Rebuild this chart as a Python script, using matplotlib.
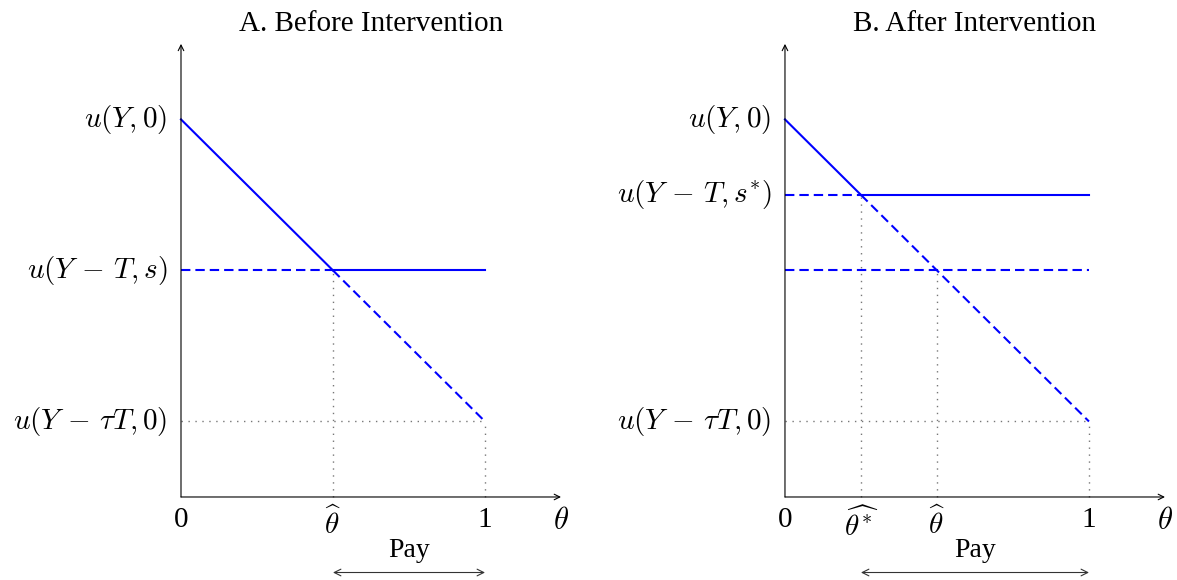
import matplotlib
matplotlib.use("Agg")
import matplotlib.pyplot as plt

plt.rcParams['font.family'] = ['Liberation Serif', 'DejaVu Serif']
plt.rcParams['mathtext.fontset'] = 'cm'

# levels of utility (vertical) and thresholds (horizontal)
u_top = 3.75        # u(Y,0)
u_s = 2.25          # u(Y-T,s)
u_s_star = 3.0      # u(Y-T,s*)
u_tau = 0.75        # u(Y-tau T,0)
theta_hat = 0.5
theta_hat_star = 0.25
x_end = 1.25
y_end = 4.5

titles = ["A. Before Intervention", "B. After Intervention"]
ylabels_a = [r"$u(Y,0)$", r"$u(Y\,-\,T,s)$", r"$u(Y\,-\,\tau T,0)$"]
ylabels_b = [r"$u(Y,0)$", r"$u(Y\,-\,T,s^{*})$", r"$u(Y\,-\,\tau T,0)$"]

blue = "#0000ff"
dots = (0, (1, 4))
dash = (0, (4.5, 2.4))
grey = "#777777"

fig = plt.figure(figsize=(11.77, 5.8), dpi=100)
axA = fig.add_axes([0.12795, 0.1084, 0.3616, 0.8333])
axB = fig.add_axes([0.6411, 0.1084, 0.3616, 0.8333])


def base(ax, title, ylabs, ylevels, xticks, xlabs, pay_from):
    ax.set_xlim(-0.1, 1.3)
    ax.set_ylim(-0.2, 4.6)
    ax.axis('off')
    # axes with open arrow heads
    ax.annotate('', xy=(0, y_end), xytext=(0, 0),
                arrowprops=dict(arrowstyle='->', lw=0.8, color='black', shrinkA=0, shrinkB=0))
    ax.annotate('', xy=(x_end, 0), xytext=(0, 0),
                arrowprops=dict(arrowstyle='->', lw=0.8, color='black', shrinkA=0, shrinkB=0))
    ax.text(x_end / 2, 4.70, title, ha='center', va='center', fontsize=21)
    for lab, lv in zip(ylabs, ylevels):
        ax.annotate(lab, xy=(0, lv), xytext=(-10, 0), textcoords='offset points',
                    ha='right', va='center', fontsize=21, annotation_clip=False)
    for xt, xl in zip(xticks, xlabs):
        ax.text(xt, -0.1, xl, ha='center', va='top', fontsize=21)
    ax.text(x_end, -0.1, r"$\theta$", ha='center', va='top', fontsize=22)
    mid = (pay_from + 1) / 2
    ax.text(mid, -0.53, "Pay", ha='center', va='center', fontsize=20)
    ax.annotate('', xy=(1, -0.75), xytext=(pay_from, -0.75), annotation_clip=False,
                arrowprops=dict(arrowstyle='<->', lw=0.8, color='#333333', shrinkA=0, shrinkB=0,
                                mutation_scale=12))
    # dotted guide at the low level
    ax.plot([0, 1], [u_tau, u_tau], color=grey, lw=1.0, ls=dots)
    ax.plot([1, 1], [0, u_tau], color=grey, lw=1.0, ls=dots)


# Panel A
base(axA, titles[0], ylabels_a, [u_top, u_s, u_tau], [0, theta_hat, 1],
     ["0", r"$\widehat{\theta}$", "1"], theta_hat)
axA.plot([theta_hat, theta_hat], [0, u_s], color=grey, lw=1.0, ls=dots)
axA.plot([0, theta_hat], [u_top, u_s], color=blue, lw=1.5)
axA.plot([theta_hat, 1], [u_s, u_tau], color=blue, lw=1.5, ls=dash)
axA.plot([0, theta_hat], [u_s, u_s], color=blue, lw=1.5, ls=dash)
axA.plot([theta_hat, 1], [u_s, u_s], color=blue, lw=1.5)

# Panel B
base(axB, titles[1], ylabels_b, [u_top, u_s_star, u_tau], [0, theta_hat_star, theta_hat, 1],
     ["0", r"$\widehat{\theta^{*}}$", r"$\widehat{\theta}$", "1"], theta_hat_star)
axB.plot([theta_hat_star, theta_hat_star], [0, u_s_star], color=grey, lw=1.0, ls=dots)
axB.plot([theta_hat, theta_hat], [0, u_s], color=grey, lw=1.0, ls=dots)
axB.plot([0, theta_hat_star], [u_top, u_s_star], color=blue, lw=1.5)
axB.plot([theta_hat_star, 1], [u_s_star, u_tau], color=blue, lw=1.5, ls=dash)
axB.plot([0, theta_hat_star], [u_s_star, u_s_star], color=blue, lw=1.5, ls=dash)
axB.plot([theta_hat_star, 1], [u_s_star, u_s_star], color=blue, lw=1.5)
axB.plot([0, 1], [u_s, u_s], color=blue, lw=1.5, ls=dash)

fig.savefig("out.png", dpi=100)
